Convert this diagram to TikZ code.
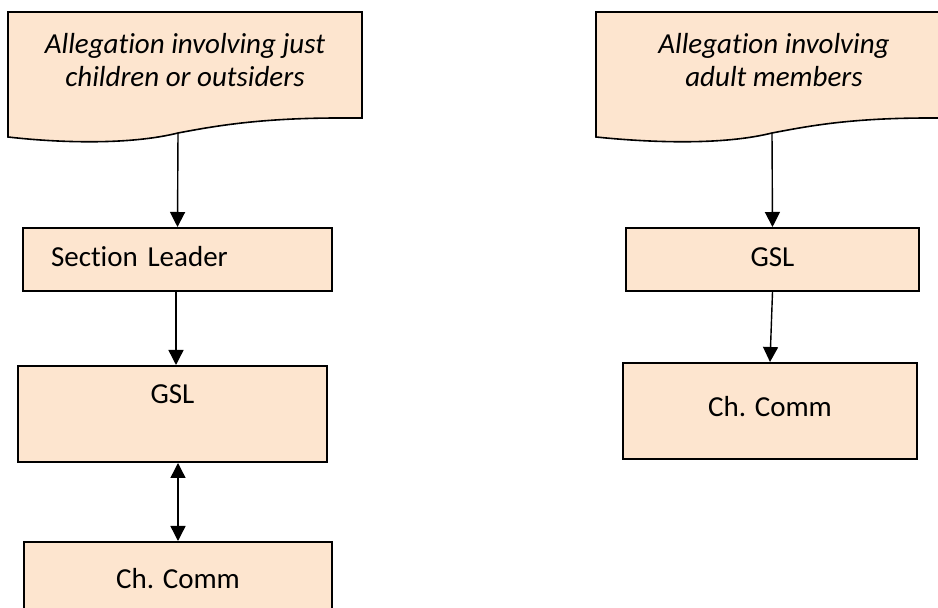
\documentclass[tikz,border=0pt]{standalone}
\usepackage{fontspec}
\setmainfont{Carlito}[RawFeature={-liga;-clig;-dlig;-calt}]
\usepackage{tikz}
\usetikzlibrary{arrows.meta}
\definecolor{peach}{HTML}{FDE5CF}

\begin{document}
\begin{tikzpicture}[x=0.5pt,y=-0.5pt,
        box/.style={draw,line width=1pt,fill=peach,inner xsep=0pt,inner ysep=0pt,
            font=\fontsize{14.5}{17}\selectfont},
        doc/.style={draw,line width=0.8pt,fill=peach},
        doctext/.style={align=center,inner sep=0pt,font=\fontsize{14.5}{16.5}\selectfont\itshape},
        link/.style={line width=0.7pt,-{Triangle[length=7.5pt,width=7.5pt]}},
        twoway/.style={line width=0.7pt,{Triangle[length=7.5pt,width=7.5pt]}-{Triangle[length=7.5pt,width=7.5pt]}}]
        \useasboundingbox (0,0) rectangle (938,608);
        \clip (0,0) rectangle (938,608);

        \draw[doc] (8,12) -- (362,12) -- (362,118) -- (340,118)
            .. controls (260,118) and (215,126) .. (178,133)
            .. controls (130,145) and (60,143) .. (8,137) -- cycle;
        \draw[doc] (596,12) -- (950,12) -- (950,118) -- (930,118)
            .. controls (850,118) and (809,126) .. (772,133)
            .. controls (724,145) and (654,143) .. (596,137) -- cycle;
        \coordinate (tipL) at (178,133);
        \coordinate (tipR) at (772,133);

        \node[doctext] (allegL) at (185,60) {Allegation involving just\\children or outsiders};
        \node[doctext] (allegR) at (774,60) {Allegation involving\\adult members};

        \node[box,anchor=north,text width=126.5pt,inner xsep=14pt,align=left,
            text height=19.5pt,text depth=12pt] (leaderL) at (177.5,227) {Section Leader};
        \node[box,anchor=north,minimum width=154.5pt,
            text height=19pt,text depth=29pt] (gslL) at (172.5,365) {GSL};
        \node[box,anchor=north,minimum width=154pt,
            text height=23.5pt,text depth=30pt] (commL) at (178,541) {Ch. Comm};

        \node[box,anchor=north,minimum width=146.5pt,
            text height=19.5pt,text depth=12pt] (gslR) at (772.5,227) {GSL};
        \node[box,anchor=north,minimum width=147pt,
            text height=27pt,text depth=21pt] (commR) at (770,362) {Ch. Comm};

        \draw[link] (tipL) -- (leaderL.north);
        \draw[link] (leaderL.south -| 176,0) -- (gslL.north -| 176,0);
        \draw[twoway] (commL.north |- gslL.south) -- (commL.north);
        \draw[link] (tipR) -- (gslR.north);
        \draw[link] (gslR.south) -- (commR.north);
    \end{tikzpicture}
\end{document}
